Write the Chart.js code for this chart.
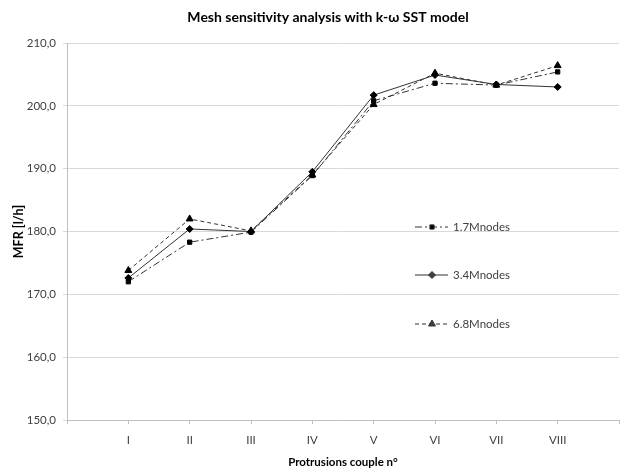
<!DOCTYPE html>
<html>
<head>
<meta charset="utf-8">
<script src="https://cdn.jsdelivr.net/npm/chart.js@4"></script>
<style>
  html, body { margin: 0; padding: 0; background: #fff; overflow: hidden; }
  #wrap { width: 628px; height: 472px; }
</style>
</head>
<body>
<div id="wrap"><canvas id="chart"></canvas></div>
<script>
// values
const categories = ['I', 'II', 'III', 'IV', 'V', 'VI', 'VII', 'VIII'];
const mfr17 = [172.0, 178.3, 179.9, 188.9, 200.8, 203.6, 203.3, 205.4];
const mfr34 = [172.6, 180.4, 180.0, 189.5, 201.7, 204.9, 203.4, 203.0];
const mfr68 = [173.8, 182.0, 180.1, 189.0, 200.2, 205.2, 203.3, 206.4];
const yTicks = [150, 160, 170, 180, 190, 200, 210];

const chartTitle = 'Mesh sensitivity analysis with k-\u03c9 SST model';
const font = 'Lato, "Open Sans", sans-serif';

// empty slot before and after, like the excel category axis
const labels = [''].concat(categories, ['']);
const pad = arr => [null].concat(arr, [null]);

// draws the title and the legend that sits inside the plot
const extras = {
  id: 'extras',
  afterDraw(chart) {
    const ctx = chart.ctx;
    ctx.save();
    ctx.fillStyle = '#000';
    ctx.font = 'bold 14px ' + font;
    ctx.textAlign = 'center';
    ctx.textBaseline = 'middle';
    ctx.fillText(chartTitle, 328, 17);

    const rows = [227, 275, 324];
    chart.data.datasets.forEach((ds, i) => {
      const y = rows[i];
      ctx.strokeStyle = ds.borderColor;
      ctx.lineWidth = ds.borderWidth;
      ctx.setLineDash(ds.borderDash || []);
      ctx.beginPath();
      ctx.moveTo(415, y);
      ctx.lineTo(448, y);
      ctx.stroke();
      ctx.setLineDash([]);
      Chart.helpers.drawPoint(ctx, {
        pointStyle: ds.pointStyle,
        radius: ds.pointRadius,
        borderWidth: 1
      }, 432, y);
      ctx.fillStyle = '#404040';
      ctx.font = '11.5px ' + font;
      ctx.textAlign = 'left';
      ctx.fillText(ds.label, 453, y);
    });
    ctx.restore();
  }
};

new Chart(document.getElementById('chart'), {
  type: 'line',
  data: {
    labels: labels,
    datasets: [
      {
        label: '1.7Mnodes',
        data: pad(mfr17),
        borderColor: '#333',
        borderWidth: 1,
        borderDash: [7, 3, 2, 3],
        pointStyle: 'rect',
        pointRadius: 3,
        pointBackgroundColor: '#000',
        pointBorderColor: '#000'
      },
      {
        label: '3.4Mnodes',
        data: pad(mfr34),
        borderColor: '#333',
        borderWidth: 1,
        pointStyle: 'rectRot',
        pointRadius: 3.5,
        pointBackgroundColor: '#000',
        pointBorderColor: '#000'
      },
      {
        label: '6.8Mnodes',
        data: pad(mfr68),
        borderColor: '#333',
        borderWidth: 1,
        borderDash: [4, 3],
        pointStyle: 'triangle',
        pointRadius: 4,
        pointBackgroundColor: '#000',
        pointBorderColor: '#000'
      }
    ]
  },
  options: {
    responsive: true,
    maintainAspectRatio: false,
    animation: false,
    layout: { padding: { top: 43, right: 0, bottom: 0, left: 0 } },
    plugins: {
      legend: { display: false },
      title: { display: false },
      tooltip: { enabled: false }
    },
    scales: {
      x: {
        offset: false,
        grid: { drawOnChartArea: false, tickLength: 4, color: '#bfbfbf' },
        border: { color: '#bfbfbf' },
        ticks: { color: '#404040', font: { family: font, size: 11.5 }, padding: 9, autoSkip: false, maxRotation: 0 },
        title: { display: true, text: 'Protrusions couple n\u00b0', color: '#000', font: { family: font, size: 11.5, weight: 'bold' }, padding: { top: 0, bottom: 3 } },
        afterFit(scale) { scale.height = 52; }
      },
      y: {
        min: 150,
        max: 210,
        afterBuildTicks(scale) { scale.ticks = yTicks.map(v => ({ value: v })); },
        grid: { color: '#d9d9d9', tickLength: 4 },
        border: { color: '#bfbfbf' },
        ticks: {
          color: '#404040',
          font: { family: font, size: 11.5 },
          padding: 7,
          callback: v => v.toFixed(1).replace('.', ',')
        },
        title: { display: true, text: 'MFR [l/h]', color: '#000', font: { family: font, size: 12.5, weight: 'bold' }, padding: { top: 11, bottom: 0 } },
        afterFit(scale) { scale.width = 67; }
      }
    }
  },
  plugins: [extras]
});
</script>
</body>
</html>
